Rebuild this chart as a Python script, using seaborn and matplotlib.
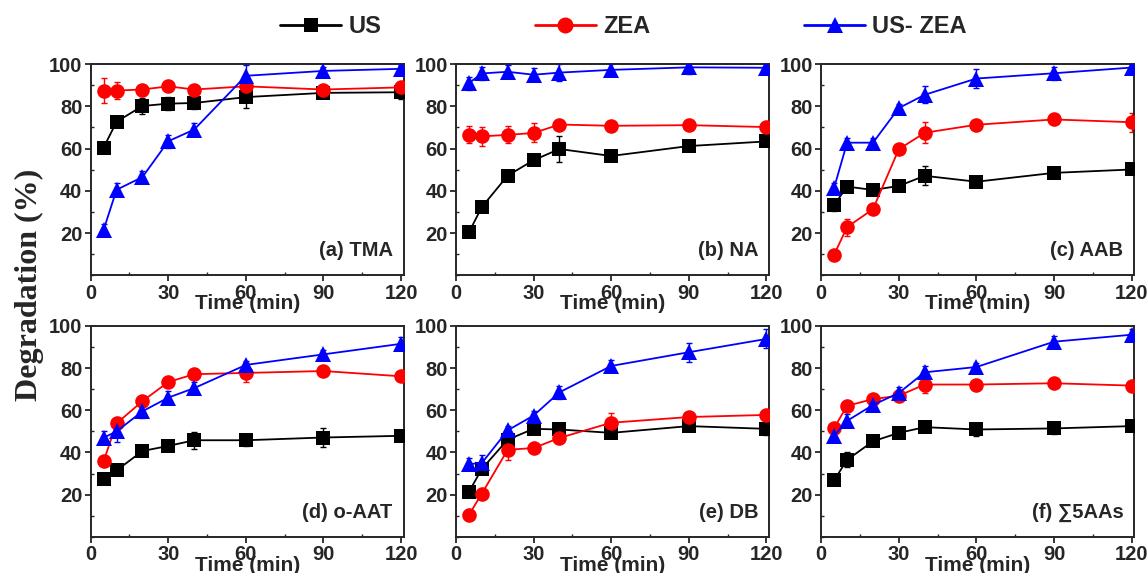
import pandas as pd
import seaborn as sns
import matplotlib.pyplot as plt
from matplotlib.lines import Line2D
from matplotlib.ticker import MultipleLocator

# sampling times (min)
time = [5, 10, 20, 30, 40, 60, 90, 120]
treatments = ["US", "ZEA", "US- ZEA"]
panel_labels = ["(a) TMA", "(b) NA", "(c) AAB", "(d) o-AAT", "(e) DB", "(f) \u22115AAs"]

# degradation (%)
tma_us = [60.5, 72.7, 80.2, 81.3, 81.6, 84.4, 86.4, 86.7]
tma_zea = [87.5, 87.5, 88.0, 89.5, 88.0, 89.5, 88.0, 89.0]
tma_uszea = [21.5, 40.5, 46.5, 63.5, 69.0, 94.5, 96.8, 97.8]
tma_us_err = [1.5, 2, 4, 3, 3, 5, 2, 3]
tma_zea_err = [6, 4, 2, 2, 2, 2, 2, 2]
tma_uszea_err = [3, 3, 3, 3, 3, 5, 2, 2]

na_us = [20.3, 32.3, 47.2, 54.5, 59.8, 56.5, 61.2, 63.4]
na_zea = [66.5, 65.8, 66.5, 67.4, 71.4, 70.8, 71.1, 70.2]
na_uszea = [91.0, 95.6, 96.4, 95.0, 96.0, 97.3, 98.5, 98.3]
na_us_err = [1.5, 1.5, 2, 2.5, 6, 2, 2.5, 2]
na_zea_err = [4, 4.5, 4, 4.5, 2, 2, 2, 1.5]
na_uszea_err = [3, 3, 3, 3, 4, 3, 3, 3]

aab_us = [33.3, 42.0, 40.4, 42.3, 47.1, 44.3, 48.5, 50.1]
aab_zea = [9.8, 22.8, 31.3, 59.7, 67.5, 71.3, 73.8, 72.5]
aab_uszea = [41.5, 62.8, 62.8, 79.2, 85.5, 93.2, 95.7, 98.4]
aab_us_err = [3, 2, 2, 2, 4.5, 2, 2, 2]
aab_zea_err = [1.5, 4, 2, 2, 5, 2, 2, 4.5]
aab_uszea_err = [2, 2, 2, 2, 4, 4.5, 3, 3]

oaat_us = [27.5, 31.5, 40.7, 43.1, 45.8, 45.8, 47.1, 47.9]
oaat_zea = [35.9, 53.8, 64.3, 73.4, 77.1, 77.7, 78.6, 76.1]
oaat_uszea = [47.0, 50.0, 59.5, 66.0, 70.5, 81.5, 86.5, 91.5]
oaat_us_err = [2, 2, 2.5, 2, 4, 2.5, 4.5, 2]
oaat_zea_err = [2, 2, 2, 2, 2, 4.5, 2, 2]
oaat_uszea_err = [3, 5, 3, 3, 3, 2, 2, 3]

db_us = [21.3, 32.2, 46.1, 51.2, 50.9, 49.3, 52.5, 51.2]
db_zea = [10.4, 20.5, 41.3, 42.1, 46.9, 54.1, 56.8, 57.8]
db_uszea = [34.5, 35.0, 50.5, 57.5, 68.5, 81.0, 87.5, 93.8]
db_us_err = [2, 2, 2, 2, 2, 2.5, 2, 3]
db_zea_err = [2, 2, 5, 2, 2, 4.5, 2, 2]
db_uszea_err = [3, 4, 2, 2, 3, 3, 4.5, 4.5]

aas_us = [26.9, 36.5, 45.3, 49.3, 52.0, 50.9, 51.4, 52.5]
aas_zea = [51.7, 62.1, 65.3, 66.9, 72.2, 72.2, 72.8, 71.7]
aas_uszea = [48.0, 55.0, 62.5, 68.2, 78.0, 80.5, 92.5, 95.8]
aas_us_err = [2, 3.5, 2, 2.5, 2, 3, 2.5, 2]
aas_zea_err = [2, 2, 2, 2.5, 4, 2, 2, 2]
aas_uszea_err = [3, 3, 3, 3, 3, 2, 2.5, 2.5]

panel_values = [
    (tma_us, tma_zea, tma_uszea),
    (na_us, na_zea, na_uszea),
    (aab_us, aab_zea, aab_uszea),
    (oaat_us, oaat_zea, oaat_uszea),
    (db_us, db_zea, db_uszea),
    (aas_us, aas_zea, aas_uszea),
]
panel_errors = [
    (tma_us_err, tma_zea_err, tma_uszea_err),
    (na_us_err, na_zea_err, na_uszea_err),
    (aab_us_err, aab_zea_err, aab_uszea_err),
    (oaat_us_err, oaat_zea_err, oaat_uszea_err),
    (db_us_err, db_zea_err, db_uszea_err),
    (aas_us_err, aas_zea_err, aas_uszea_err),
]

colors = {"US": "#000000", "ZEA": "#ff0000", "US- ZEA": "#0000ff"}
markers = {"US": "s", "ZEA": "o", "US- ZEA": "^"}
msizes = {"US": 9.5, "ZEA": 10.5, "US- ZEA": 11}

sns.set_style("ticks")
plt.rcParams["font.family"] = ["Liberation Sans", "DejaVu Sans"]
plt.rcParams["font.weight"] = "bold"

fig, axes = plt.subplots(2, 3, figsize=(11.48, 5.73), dpi=100)
fig.subplots_adjust(left=0.079, right=0.988, top=0.888, bottom=0.063,
                    wspace=0.167, hspace=0.24)

for ax, label, vals, errs in zip(axes.flat, panel_labels, panel_values, panel_errors):
    df = pd.DataFrame({
        "time": time * 3,
        "value": vals[0] + vals[1] + vals[2],
        "treatment": [t for t in treatments for _ in time],
    })
    # error bars first, markers on top
    for t, v, e in zip(treatments, vals, errs):
        ax.errorbar(time, v, yerr=e, fmt="none", ecolor=colors[t],
                    elinewidth=1, capsize=2, capthick=1, zorder=2)
    for t in treatments:
        sns.lineplot(data=df[df["treatment"] == t], x="time", y="value",
                     color=colors[t], marker=markers[t], markersize=msizes[t],
                     markeredgewidth=0, linewidth=1.3, ax=ax, legend=False,
                     zorder=3)
    ax.set_xlim(0, 121)
    ax.set_ylim(0, 100)
    ax.set_xticks([0, 30, 60, 90, 120])
    ax.set_yticks([20, 40, 60, 80, 100])
    ax.xaxis.set_minor_locator(MultipleLocator(15))
    ax.yaxis.set_minor_locator(MultipleLocator(10))
    ax.tick_params(which="major", direction="out", length=4, width=1.3,
                   labelsize=14.5, pad=2)
    ax.tick_params(which="minor", direction="in", length=2.5, width=1)
    for lab in ax.get_xticklabels() + ax.get_yticklabels():
        lab.set_fontweight("bold")
    for s in ax.spines.values():
        s.set_linewidth(1.4)
        s.set_visible(True)
    ax.set_ylabel("")
    ax.set_xlabel("Time (min)", fontsize=15, fontweight="bold", labelpad=-6)
    ax.text(0.965, 0.07, label, transform=ax.transAxes, ha="right", va="bottom",
            fontsize=14.5, fontweight="bold")

fig.text(0.026, 0.503, "Degradation (%)", rotation=90, ha="center", va="center",
         family="Liberation Serif", fontweight="bold", fontsize=23)

handles = [Line2D([], [], color=colors[t], marker=markers[t], markersize=msizes[t] + 1,
                  markeredgewidth=0, linewidth=2) for t in treatments]
fig.legend(handles, treatments, loc="center", bbox_to_anchor=(0.543, 0.953),
           ncol=3, frameon=False, handlelength=2.6, columnspacing=6.5,
           handletextpad=0.3, prop={"family": ["Liberation Sans Narrow", "Liberation Sans"],
                                    "weight": "bold", "size": 17})

plt.savefig("out.png", dpi=100)
